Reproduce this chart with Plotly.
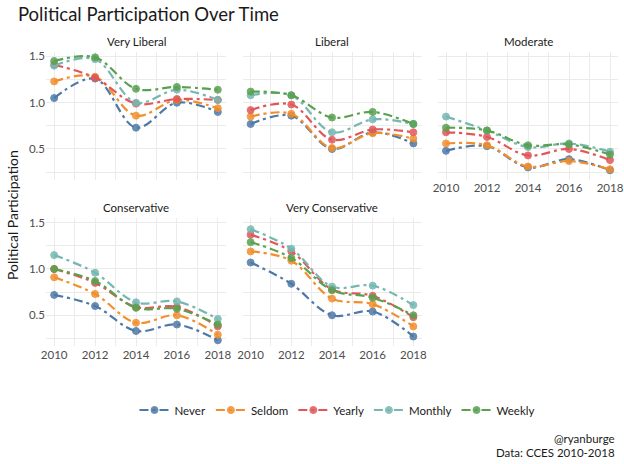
import plotly.graph_objects as go

W, H = 624, 464

years = [2010, 2012, 2014, 2016, 2018]
groups = ["Never", "Seldom", "Yearly", "Monthly", "Weekly"]
group_colors = ["#4E79A7", "#F28E2B", "#E15759", "#76B7B2", "#59A14F"]
panel_titles = ["Very Liberal", "Liberal", "Moderate", "Conservative", "Very Conservative"]

# values per panel: rows follow `groups`
very_liberal = [
    [1.05, 1.26, 0.73, 1.00, 0.90],
    [1.23, 1.28, 0.86, 1.03, 0.94],
    [1.41, 1.27, 0.99, 1.04, 1.03],
    [1.40, 1.47, 1.00, 1.14, 1.03],
    [1.45, 1.49, 1.15, 1.17, 1.14],
]
liberal = [
    [0.77, 0.86, 0.50, 0.68, 0.56],
    [0.85, 0.88, 0.51, 0.67, 0.61],
    [0.92, 0.98, 0.60, 0.71, 0.68],
    [1.08, 1.08, 0.68, 0.82, 0.77],
    [1.12, 1.08, 0.84, 0.90, 0.77],
]
moderate = [
    [0.48, 0.53, 0.30, 0.39, 0.27],
    [0.56, 0.54, 0.31, 0.37, 0.28],
    [0.68, 0.63, 0.43, 0.50, 0.38],
    [0.85, 0.70, 0.52, 0.56, 0.47],
    [0.73, 0.70, 0.54, 0.55, 0.44],
]
conservative = [
    [0.72, 0.60, 0.33, 0.40, 0.23],
    [0.91, 0.73, 0.42, 0.50, 0.29],
    [1.00, 0.85, 0.59, 0.59, 0.38],
    [1.15, 0.96, 0.64, 0.65, 0.46],
    [1.00, 0.87, 0.58, 0.57, 0.40],
]
very_conservative = [
    [1.07, 0.84, 0.50, 0.54, 0.27],
    [1.19, 1.09, 0.68, 0.62, 0.38],
    [1.37, 1.19, 0.78, 0.71, 0.48],
    [1.43, 1.22, 0.81, 0.82, 0.61],
    [1.29, 1.12, 0.77, 0.69, 0.50],
]
panel_values = [very_liberal, liberal, moderate, conservative, very_conservative]

FONT = "Lato"
TXT = "#1a1a1a"
TICK = "#4d4d4d"
GRID = "#ebebeb"

# panel pixel boxes (x0, x1, ytop, ybottom)
cols = [(46, 226), (242.5, 421.5), (437.8, 618.2)]
rows = [(51.5, 179.8), (217.8, 346.1)]
positions = [(0, 0), (0, 1), (0, 2), (1, 0), (1, 1)]

fig = go.Figure()

def px(x):
    return x / W

def py(y):
    return 1 - y / H

for i, (title, vals) in enumerate(zip(panel_titles, panel_values)):
    r, c = positions[i]
    n = i + 1
    xa = "x" if n == 1 else f"x{n}"
    ya = "y" if n == 1 else f"y{n}"
    for g, (name, col) in enumerate(zip(groups, group_colors)):
        fig.add_trace(go.Scatter(
            x=years, y=vals[g], mode="lines+markers", name=name,
            legendgroup=name, showlegend=(i == 0),
            line=dict(color=col, width=2.2, dash="9px,4px,3px,4px", shape="spline", smoothing=1.0),
            marker=dict(size=7, color=col, opacity=0.85, line=dict(color=col, width=1)),
            xaxis=xa, yaxis=ya,
        ))
    x0, x1 = cols[c]
    yt, yb = rows[r]
    show_x = (r == 1) or (c == 2)
    show_y = (c == 0)
    xkey = "xaxis" if n == 1 else f"xaxis{n}"
    ykey = "yaxis" if n == 1 else f"yaxis{n}"
    fig.layout[xkey] = dict(
        domain=[px(x0), px(x1)], anchor=ya, range=[2009.6, 2018.4],
        tickmode="array", tickvals=years, ticktext=[str(y) for y in years],
        showticklabels=show_x, showgrid=True, gridcolor=GRID, gridwidth=1.1,
        minor=dict(dtick=1, tick0=2010, showgrid=True, gridcolor=GRID, gridwidth=0.6),
        zeroline=False, showline=False, ticks="", automargin=False,
        tickfont=dict(family=FONT, size=11.5, color=TICK),
    )
    fig.layout[ykey] = dict(
        domain=[py(yb), py(yt)], anchor=xa, range=[0.167, 1.553],
        tickmode="array", tickvals=[0.5, 1.0, 1.5], ticktext=["0.5", "1.0", "1.5"],
        showticklabels=show_y, showgrid=True, gridcolor=GRID, gridwidth=1.1,
        minor=dict(tickvals=[0.25, 0.75, 1.25], showgrid=True, gridcolor=GRID, gridwidth=0.6),
        zeroline=False, showline=False, ticks="", automargin=False,
        tickfont=dict(family=FONT, size=11.5, color=TICK),
    )
    fig.add_annotation(
        text=title, x=px((x0 + x1) / 2), y=py(yt - 10), xref="paper", yref="paper",
        xanchor="center", yanchor="middle", showarrow=False,
        font=dict(family=FONT, size=11.5, color=TXT),
    )

fig.add_annotation(
    text="Political Participation", x=px(12), y=py(215), xref="paper", yref="paper",
    textangle=-90, xanchor="center", yanchor="middle", showarrow=False,
    font=dict(family=FONT, size=14, color=TXT),
)
fig.add_annotation(
    text="@ryanburge", x=px(617), y=py(438), xref="paper", yref="paper",
    xanchor="right", yanchor="middle", showarrow=False,
    font=dict(family=FONT, size=11.5, color=TXT),
)
fig.add_annotation(
    text="Data: CCES 2010-2018", x=px(617), y=py(452), xref="paper", yref="paper",
    xanchor="right", yanchor="middle", showarrow=False,
    font=dict(family=FONT, size=11.5, color=TXT),
)

fig.update_layout(
    width=W, height=H,
    margin=dict(l=0, r=0, t=0, b=0),
    paper_bgcolor="white", plot_bgcolor="white",
    title=dict(text="Political Participation Over Time", x=px(18), xanchor="left",
               y=py(15), yanchor="middle", font=dict(family=FONT, size=18.5, color=TXT)),
    legend=dict(orientation="h", x=px(337), xanchor="center", y=py(410), yanchor="middle",
                font=dict(family=FONT, size=11.5, color=TXT), itemwidth=30,
                bgcolor="rgba(0,0,0,0)"),
    font=dict(family=FONT),
)

fig.write_html("out.html", config={"displayModeBar": False},
               post_script="document.body.style.margin='0';")
